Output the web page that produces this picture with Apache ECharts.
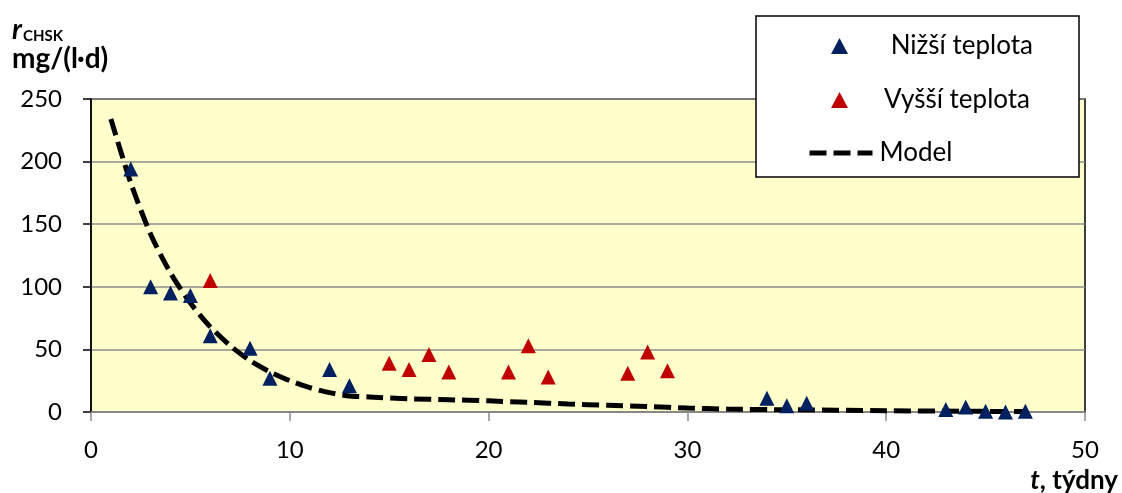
<!DOCTYPE html>
<html>
<head>
<meta charset="utf-8">
<script src="https://cdn.jsdelivr.net/npm/echarts@6/dist/echarts.min.js"></script>
<style>
  html, body { margin: 0; padding: 0; background: #ffffff; }
  #chart { width: 1122px; height: 493px; }
</style>
</head>
<body>
<div id="chart"></div>
<script>
// ---- data ----
const seriesNames = [' Nižší teplota', 'Vyšší teplota', 'Model'];

const lowX  = [2, 3, 4, 5, 6, 8, 9, 12, 13, 34, 35, 36, 43, 44, 45, 46, 47];
const lowY  = [194, 100, 95, 93, 61, 51, 27, 34, 21, 11, 5, 7, 2, 4, 0.5, 0, 0.5];

const highX = [6, 15, 16, 17, 18, 21, 22, 23, 27, 28, 29];
const highY = [105, 39, 34, 46, 32, 32, 53, 28, 31, 48, 33];

const modelX = [1, 2, 3, 4, 5, 6, 7, 8, 9, 10, 11, 12, 13, 14, 16, 18, 20, 22, 24, 26, 28, 30, 32, 35, 40, 45, 47];
const modelY = [234, 183, 142, 111, 87, 68, 53, 41, 32, 25, 19.5, 15.5, 12.8, 12, 10.5, 9.8, 8.9, 7.7, 6.4, 5.4, 4.4, 3.2, 2.3, 1.8, 1, 0.5, 0.3];

const xTicks = [0, 10, 20, 30, 40, 50];
const yTicks = [0, 50, 100, 150, 200, 250];

const yTitleMain = 'r';
const yTitleSub = 'CHSK';
const yTitleUnit = 'mg/(l·d)';
const xTitleVar = 't';
const xTitleRest = ', týdny';

// ---- build ----
const zip = (xs, ys) => xs.map((x, i) => [x, ys[i]]);
const FONT = 'Lato';
const dash = [17, 7];
const legendText = (pad) => ({ color: '#000', fontSize: 26, fontFamily: FONT, padding: [0, 0, 0, pad] });

const chart = echarts.init(document.getElementById('chart'), null, { renderer: 'canvas' });
chart.setOption({
  backgroundColor: '#ffffff',
  animation: false,
  textStyle: { fontFamily: FONT },
  grid: {
    left: 91, right: 37, top: 99, bottom: 81,
    show: true, backgroundColor: '#FFFFCC', borderColor: '#000000', borderWidth: 1.5,
    containLabel: false
  },
  xAxis: {
    type: 'value',
    min: xTicks[0], max: xTicks[xTicks.length - 1], interval: xTicks[1] - xTicks[0],
    axisLine: { show: true, onZero: false, lineStyle: { color: '#8c8c8c', width: 1.5 } },
    axisTick: { show: true, inside: false, length: 9, lineStyle: { color: '#8c8c8c', width: 1.5 } },
    axisLabel: { color: '#000', fontSize: 24, fontFamily: FONT, margin: 26 },
    splitLine: { show: false }
  },
  yAxis: {
    type: 'value',
    min: yTicks[0], max: yTicks[yTicks.length - 1], interval: yTicks[1] - yTicks[0],
    axisLine: { show: true, lineStyle: { color: '#000000', width: 1.5 } },
    axisTick: { show: true, inside: false, length: 8, lineStyle: { color: '#000000', width: 1.5 } },
    axisLabel: { color: '#000', fontSize: 24, fontFamily: FONT, margin: 29 },
    splitLine: { show: true, lineStyle: { color: '#8c8c8c', width: 1.5 } }
  },
  legend: [
    { left: 826, top: 28, itemWidth: 17, itemHeight: 16, data: [seriesNames[0]], textStyle: legendText(31), z: 10 },
    { left: 826, top: 82, itemWidth: 17, itemHeight: 16, data: [seriesNames[1]], textStyle: legendText(31), z: 10 },
    { left: 802, top: 135, itemWidth: 63, itemHeight: 16,
      data: [{ name: seriesNames[2], itemStyle: { opacity: 0 }, lineStyle: { color: '#000', width: 5, type: dash } }],
      textStyle: legendText(2), z: 10 }
  ],
  graphic: [
    { type: 'rect', z: 5, shape: { x: 756, y: 16, width: 323, height: 161 },
      style: { fill: '#ffffff', stroke: '#000000', lineWidth: 1.5 } },
    { type: 'text', x: 12, y: 16, style: { text: yTitleMain, font: 'italic bold 28px ' + FONT, fill: '#000' } },
    { type: 'text', x: 23, y: 29, style: { text: yTitleSub, font: 'bold 15px ' + FONT, fill: '#000' } },
    { type: 'text', x: 12, y: 45, style: { text: yTitleUnit, font: 'bold 28px ' + FONT, fill: '#000' } },
    { type: 'text', x: 1118, y: 481, style: { text: '{v|' + xTitleVar + '}{r|' + xTitleRest + '}', align: 'right', verticalAlign: 'middle',
        rich: { v: { font: 'italic bold 26px ' + FONT, fill: '#000' }, r: { font: 'bold 26px ' + FONT, fill: '#000' } } } }
  ],
  series: [
    {
      name: seriesNames[0], type: 'scatter', symbol: 'triangle', symbolSize: 15,
      itemStyle: { color: '#002060', opacity: 1 }, data: zip(lowX, lowY), z: 4
    },
    {
      name: seriesNames[1], type: 'scatter', symbol: 'triangle', symbolSize: 15,
      itemStyle: { color: '#C00000', opacity: 1 }, data: zip(highX, highY), z: 4
    },
    {
      name: seriesNames[2], type: 'line', showSymbol: false, symbol: 'none',
      smooth: 0.25,
      lineStyle: { color: '#000000', width: 5, type: dash },
      itemStyle: { color: '#000000' },
      data: zip(modelX, modelY), z: 3
    }
  ]
});
</script>
</body>
</html>
